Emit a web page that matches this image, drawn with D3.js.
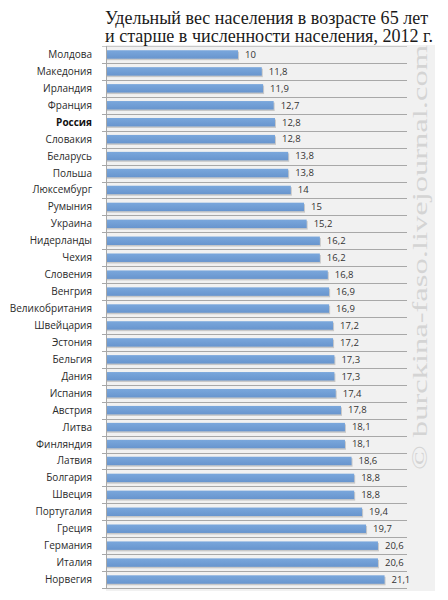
<!DOCTYPE html>
<html><head><meta charset="utf-8">
<script src="https://cdn.jsdelivr.net/npm/d3@7"></script>
<style>html,body{margin:0;padding:0;background:#fff;}</style>
</head><body>
<svg id="c" width="448" height="600"></svg>
<script>
const categories = ["Молдова","Македония","Ирландия","Франция","Россия","Словакия","Беларусь","Польша","Люксембург","Румыния","Украина","Нидерланды","Чехия","Словения","Венгрия","Великобритания","Швейцария","Эстония","Бельгия","Дания","Испания","Австрия","Литва","Финляндия","Латвия","Болгария","Швеция","Португалия","Греция","Германия","Италия","Норвегия"];
const values = [10,11.8,11.9,12.7,12.8,12.8,13.8,13.8,14,15,15.2,16.2,16.2,16.8,16.9,16.9,17.2,17.2,17.3,17.3,17.4,17.8,18.1,18.1,18.6,18.8,18.8,19.4,19.7,20.6,20.6,21.1];
const titleLines = ["Удельный вес населения в возрасте 65 лет","и старше в численности населения, 2012 г."];
const highlight = ["Россия"];
const watermark = "© burckina-faso.livejournal.com";

const svg = d3.select("#c");
const pL = 106, pR = 407, pT = 46, pB = 588;

// plot background
svg.append("rect").attr("x", pL).attr("y", pT - 1).attr("width", 435 - pL).attr("height", 591 - pT + 1).attr("fill", "#f1f1f1");

const x = d3.scaleLinear().domain([0, 22.8]).range([pL, pR]);
const y = d3.scaleBand().domain(categories).range([pT, pB]).paddingInner(0.5).paddingOuter(0.25);
const yb = d3.scaleBand().domain(categories).range([pT, pB]);

// watermark
svg.append("text")
  .attr("transform", `translate(427,470) rotate(-90)`)
  .attr("font-family", "'Liberation Serif','DejaVu Serif',serif")
  .attr("font-size", 22).attr("fill", "#d4d4d4")
  .attr("textLength", 425).attr("lengthAdjust", "spacingAndGlyphs")
  .text(watermark);

// grid lines between categories
const g = svg.append("g");
g.selectAll("line.grid").data(categories.slice(1)).join("line")
  .attr("x1", pL - 4).attr("x2", pR)
  .attr("y1", d => Math.round(yb(d)) + 0.5).attr("y2", d => Math.round(yb(d)) + 0.5)
  .attr("stroke", "#a8a8a8").attr("stroke-width", 1);
g.append("line").attr("x1", pL - 4).attr("x2", pR).attr("y1", pT + 0.5).attr("y2", pT + 0.5).attr("stroke", "#c8c8c8");
g.append("line").attr("x1", pL - 4).attr("x2", pR).attr("y1", pB + 0.5).attr("y2", pB + 0.5).attr("stroke", "#a8a8a8");
g.append("line").attr("x1", pL + 0.5).attr("x2", pL + 0.5).attr("y1", pT).attr("y2", pB).attr("stroke", "#a8a8a8");

// bars
const data = categories.map((c, i) => ({c, v: values[i]}));
const defs = svg.append("defs");
const grad = defs.append("linearGradient").attr("id", "bg").attr("x1", 0).attr("x2", 0).attr("y1", 0).attr("y2", 1);
grad.append("stop").attr("offset", "0%").attr("stop-color", "#7aa7dc");
grad.append("stop").attr("offset", "100%").attr("stop-color", "#6895ce");

svg.append("g").selectAll("rect.sh").data(data).join("rect")
  .attr("x", x(0) + 1).attr("y", d => y(d.c) + 1.5)
  .attr("width", d => x(d.v) - x(0)).attr("height", y.bandwidth())
  .attr("fill", "#c8c8c8");
svg.append("g").selectAll("rect.bar").data(data).join("rect")
  .attr("x", x(0) + 1).attr("y", d => y(d.c))
  .attr("width", d => x(d.v) - x(0) - 1).attr("height", y.bandwidth())
  .attr("fill", "url(#bg)");

// value labels
const fmt = v => String(v).replace(".", ",");
svg.append("g").selectAll("text").data(data).join("text")
  .attr("x", d => x(d.v) + 7).attr("y", d => y(d.c) + y.bandwidth() / 2)
  .attr("dy", "0.35em")
  .attr("font-family", "'Open Sans','Noto Sans',sans-serif").attr("font-size", 9.5)
  .attr("fill", "#333").text(d => fmt(d.v));

// category labels
svg.append("g").selectAll("text").data(data).join("text")
  .attr("x", 92).attr("y", d => yb(d.c) + yb.bandwidth() / 2)
  .attr("dy", "0.35em").attr("text-anchor", "end")
  .attr("font-family", "'Open Sans','Noto Sans',sans-serif").attr("font-size", 10)
  .attr("font-weight", d => highlight.includes(d.c) ? "bold" : "normal")
  .attr("fill", d => highlight.includes(d.c) ? "#111" : "#2a2a2a").text(d => d.c);

// title
svg.append("g").selectAll("text").data(titleLines).join("text")
  .attr("x", 105).attr("y", (d, i) => 24 + i * 18)
  .attr("font-family", "'Liberation Serif','DejaVu Serif',serif").attr("font-size", 18)
  .attr("fill", "#1a1a1a")
  .attr("textLength", (d, i) => i === 0 ? 323 : 328).attr("lengthAdjust", "spacingAndGlyphs")
  .text(d => d);
</script>
</body></html>
